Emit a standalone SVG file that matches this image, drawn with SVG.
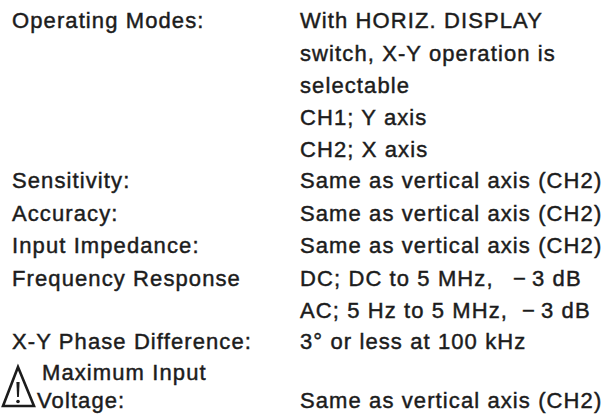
<svg xmlns="http://www.w3.org/2000/svg" width="613" height="419" viewBox="0 0 613 419">
<style>
text{font-family:"Liberation Sans",Arial,sans-serif;font-size:22px;letter-spacing:1.1px;fill:#1c1c1c;stroke:#1c1c1c;stroke-width:0.45px}
.warn{fill:none;stroke:#1c1c1c;stroke-width:2.6;stroke-linejoin:miter}
</style>
<rect width="613" height="419" fill="#ffffff"/>
<g id="labels">
<text x="12" y="28">Operating Modes:</text>
<text x="12" y="188">Sensitivity:</text>
<text x="12" y="221">Accuracy:</text>
<text x="12" y="253">Input Impedance:</text>
<text x="12" y="286">Frequency Response</text>
<text x="12" y="349">X-Y Phase Difference:</text>
<text x="42" y="380">Maximum Input</text>
<text x="37" y="408">Voltage:</text>
</g>
<g id="warning-icon">
<path class="warn" d="M18,367 L3,406 L34,406 Z"/>
<path d="M16.4,382 L19.6,382 L18.9,397 L17.1,397 Z" fill="#1c1c1c"/>
<circle cx="18" cy="401.5" r="1.8" fill="#1c1c1c"/>
</g>
<g id="values">
<text x="300" y="28">With HORIZ. DISPLAY</text>
<text x="300" y="61">switch, X-Y operation is</text>
<text x="300" y="93">selectable</text>
<text x="300" y="125">CH1; Y axis</text>
<text x="300" y="157">CH2; X axis</text>
<text x="300" y="188">Same as vertical axis (CH2)</text>
<text x="300" y="221">Same as vertical axis (CH2)</text>
<text x="300" y="253">Same as vertical axis (CH2)</text>
<text x="300" y="286">DC; DC to 5 MHz, <tspan x="513">−</tspan><tspan x="532">3 dB</tspan></text>
<text x="300" y="318">AC; 5 Hz to 5 MHz, <tspan x="522">−</tspan><tspan x="541">3 dB</tspan></text>
<text x="300" y="349">3° or less at 100 kHz</text>
<text x="300" y="408">Same as vertical axis (CH2)</text>
</g>
</svg>
